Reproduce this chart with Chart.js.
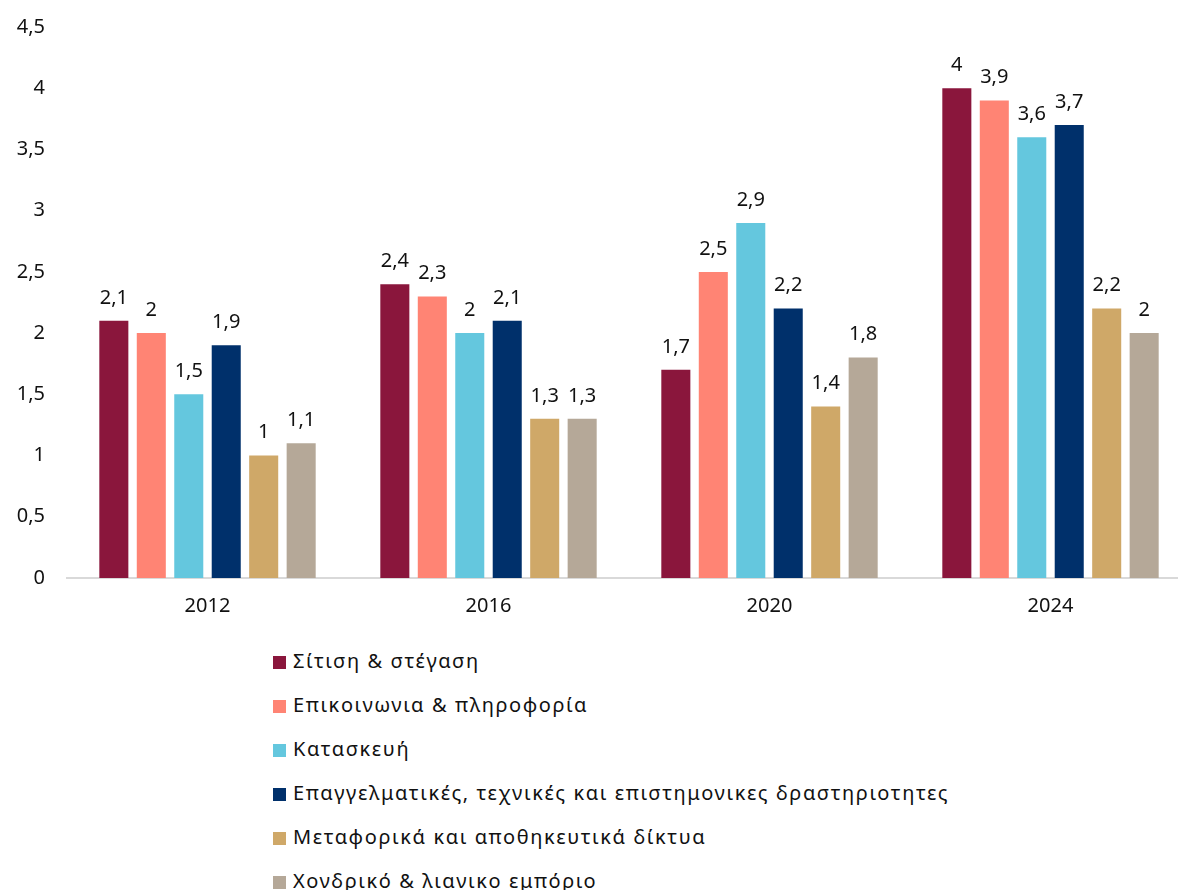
<!DOCTYPE html>
<html lang="el">
<head>
    <meta charset="UTF-8">
    <title>Κλάδοι</title>
    <script src="https://cdn.jsdelivr.net/npm/chart.js"></script>
    <style>
        html, body { margin: 0; padding: 0; background: #fff; overflow: hidden; }
        #wrap { position: relative; width: 1178px; height: 890px; overflow: hidden; }
        #chart { position: absolute; left: 0; top: 0; }
        #legend { position: absolute; left: 273px; top: 639px; font-family: "Noto Sans", sans-serif; font-size: 20px; letter-spacing: 1.6px; color: #111; }
        #legend div { height: 44px; line-height: 44px; white-space: nowrap; }
        #legend span { display: inline-block; width: 13px; height: 13px; margin-right: 7px; vertical-align: -1px; }
    </style>
</head>
<body>
<div id="wrap">
    <canvas id="chart" width="1191" height="630"></canvas>
    <div id="legend"></div>
</div>
<script>
    // κατηγορίες (έτη)
    const years = ['2012', '2016', '2020', '2024'];

    // σειρές
    const seriesNames = [
        'Σίτιση & στέγαση',
        'Επικοινωνια & πληροφορία',
        'Κατασκευή',
        'Επαγγελματικές, τεχνικές και επιστημονικες δραστηριοτητες',
        'Μεταφορικά και αποθηκευτικά δίκτυα',
        'Χονδρικό & λιανικο εμπόριο'
    ];
    const colors = ['#8A163C', '#FF8474', '#64C7DE', '#00306B', '#CFA868', '#B5A898'];

    const sitisi = [2.1, 2.4, 1.7, 4];
    const epikoinonia = [2, 2.3, 2.5, 3.9];
    const kataskevi = [1.5, 2, 2.9, 3.6];
    const epaggelmatikes = [1.9, 2.1, 2.2, 3.7];
    const metaforika = [1, 1.3, 1.4, 2.2];
    const xondriko = [1.1, 1.3, 1.8, 2];

    const seriesValues = [sitisi, epikoinonia, kataskevi, epaggelmatikes, metaforika, xondriko];

    const fmt = v => String(v).replace('.', ',');

    // ετικέτες τιμών πάνω από τις μπάρες
    const valueLabels = {
        id: 'valueLabels',
        afterDatasetsDraw(chart) {
            const ctx = chart.ctx;
            ctx.save();
            ctx.font = '20px "Noto Sans", sans-serif';
            ctx.fillStyle = '#111';
            ctx.textAlign = 'center';
            ctx.textBaseline = 'bottom';
            chart.data.datasets.forEach((ds, i) => {
                chart.getDatasetMeta(i).data.forEach((bar, j) => {
                    ctx.fillText(fmt(ds.data[j]), bar.x, bar.y - 13);
                });
            });
            ctx.restore();
        }
    };

    const chart = new Chart(document.getElementById('chart'), {
        type: 'bar',
        data: {
            labels: years,
            datasets: seriesNames.map((name, i) => ({
                label: name,
                data: seriesValues[i],
                backgroundColor: colors[i],
                borderWidth: 0,
                categoryPercentage: 0.8,
                barPercentage: 0.775
            }))
        },
        options: {
            responsive: false,
            animation: false,
            devicePixelRatio: 1,
            layout: { padding: { top: 27, right: 0, left: 0, bottom: 0 } },
            plugins: {
                legend: { display: false },
                tooltip: { enabled: false }
            },
            scales: {
                x: {
                    grid: { display: false, drawTicks: false },
                    border: { display: true, color: '#D9D9D9', width: 2 },
                    ticks: {
                        color: '#111',
                        font: { family: '"Noto Sans", sans-serif', size: 20 },
                        padding: 16
                    },
                    afterFit(scale) { scale.height = 52; }
                },
                y: {
                    min: 0,
                    max: 4.5,
                    grid: { display: false, drawTicks: false },
                    border: { display: false },
                    ticks: {
                        stepSize: 0.5,
                        color: '#111',
                        font: { family: '"Noto Sans", sans-serif', size: 20 },
                        padding: 22,
                        callback: v => fmt(v)
                    },
                    afterFit(scale) {
                        scale.width = 67;
                        scale.paddingTop = 0;
                        scale.paddingBottom = 0;
                    }
                }
            }
        },
        plugins: [valueLabels]
    });

    // υπόμνημα, ένα στοιχείο ανά γραμμή
    const legend = document.getElementById('legend');
    chart.data.datasets.forEach(ds => {
        const row = document.createElement('div');
        const sw = document.createElement('span');
        sw.style.background = ds.backgroundColor;
        row.appendChild(sw);
        row.appendChild(document.createTextNode(ds.label));
        legend.appendChild(row);
    });
</script>
</body>
</html>
